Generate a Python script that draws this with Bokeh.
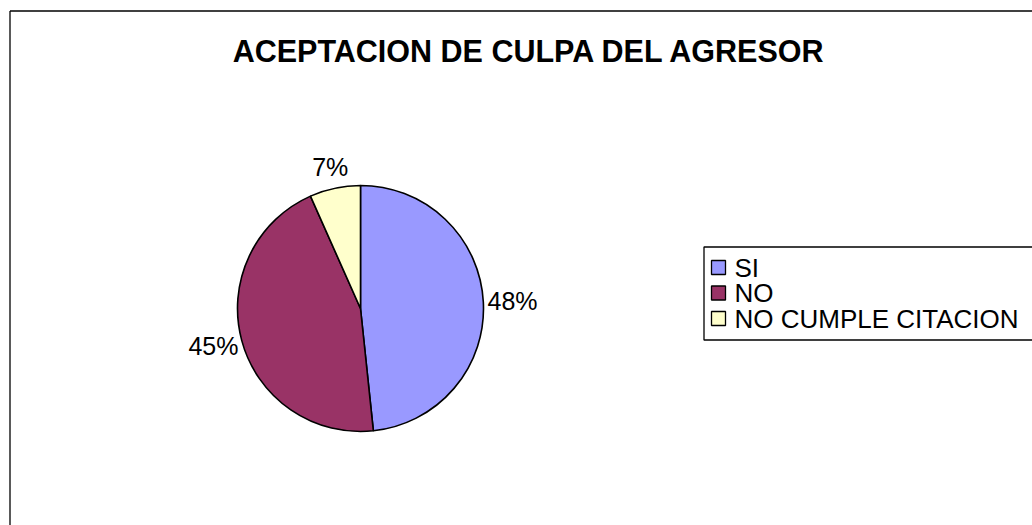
import math
from bokeh.plotting import figure
from bokeh.models import Range1d, ColumnDataSource
from bokeh.core.properties import value
from bokeh.embed import file_html
from bokeh.resources import INLINE

# ---- data ----
title_text = "ACEPTACION DE CULPA DEL AGRESOR"
categories = ["SI", "NO", "NO CUMPLE CITACION"]
counts = [29, 27, 4]
colors = ["#9999FF", "#993366", "#FFFFCC"]

W, H = 1032, 525
PAGE_H = 525  # data_y = PAGE_H - page_y

def Y(py):
    return PAGE_H - py

p = figure(width=W, height=H, output_backend="svg", toolbar_location=None,
           x_range=Range1d(0, W), y_range=Range1d(0, H),
           min_border=0, min_border_left=0, min_border_right=0,
           min_border_top=0, min_border_bottom=0)
p.axis.visible = False
p.grid.visible = False
p.outline_line_color = None
p.background_fill_color = "white"
p.border_fill_color = "white"

# chart frame (left and top edges visible, rest runs off the page)
p.segment(x0=[9.5, 9.5], y0=[Y(10.5), Y(10.5)], x1=[9.5, 1100], y1=[Y(600), Y(10.5)],
          line_color="black", line_width=1.3)

# title
p.text(x=[529], y=[Y(50)], text=[title_text], text_font=value("Liberation Sans"),
       text_font_style="bold", text_font_size="30.5px", text_align="center",
       text_baseline="middle", text_color="black")

# pie
cx, cy, r = 360, Y(308), 123
total = sum(counts)
fracs = [c / total for c in counts]
starts, ends, mids = [], [], []
cum = 0.0
for f in fracs:
    a0 = math.pi / 2 - 2 * math.pi * cum
    a1 = math.pi / 2 - 2 * math.pi * (cum + f)
    starts.append(a1)
    ends.append(a0)
    mids.append((a0 + a1) / 2)
    cum += f

src = ColumnDataSource(dict(start=starts, end=ends, color=colors, cat=categories))
p.wedge(x=cx, y=cy, radius=r, radius_units="screen", start_angle="start",
        end_angle="end", direction="anticlock", fill_color="color",
        line_color="black", line_width=1.6, source=src)

# data labels
pct_labels = [f"{round(f * 100)}%" for f in fracs]
lx, ly = [], []
gap = 9
for m, t in zip(mids, pct_labels):
    dx, dy = math.cos(m), math.sin(m)
    tw = 13.5 * len(t)
    th = 26
    lx.append(cx + (r + gap) * dx + dx * tw / 2)
    ly.append(cy + (r + gap) * dy + dy * th / 2)
p.text(x=lx, y=ly, text=pct_labels, text_font=value("Liberation Sans"),
       text_font_size="25px", text_align="center", text_baseline="middle",
       text_color="black")

# legend
leg_left, leg_top, leg_bottom = 703.5, 246.5, 339.5
p.quad(left=[leg_left], right=[1100], top=[Y(leg_top)], bottom=[Y(leg_bottom)],
       fill_color="white", line_color="black", line_width=1.3)
row0, row_step = 267, 25.5
rows_y = [Y(row0 + i * row_step) for i in range(len(categories))]
p.rect(x=[718] * len(categories), y=rows_y, width=14, height=14,
       width_units="screen", height_units="screen",
       fill_color=colors, line_color="black", line_width=1.3)
p.text(x=[734] * len(categories), y=rows_y, text=categories,
       text_font=value("Liberation Sans"), text_font_size="26px",
       text_align="left", text_baseline="middle", text_color="black")

open("out.html", "w").write(file_html(p, INLINE))
